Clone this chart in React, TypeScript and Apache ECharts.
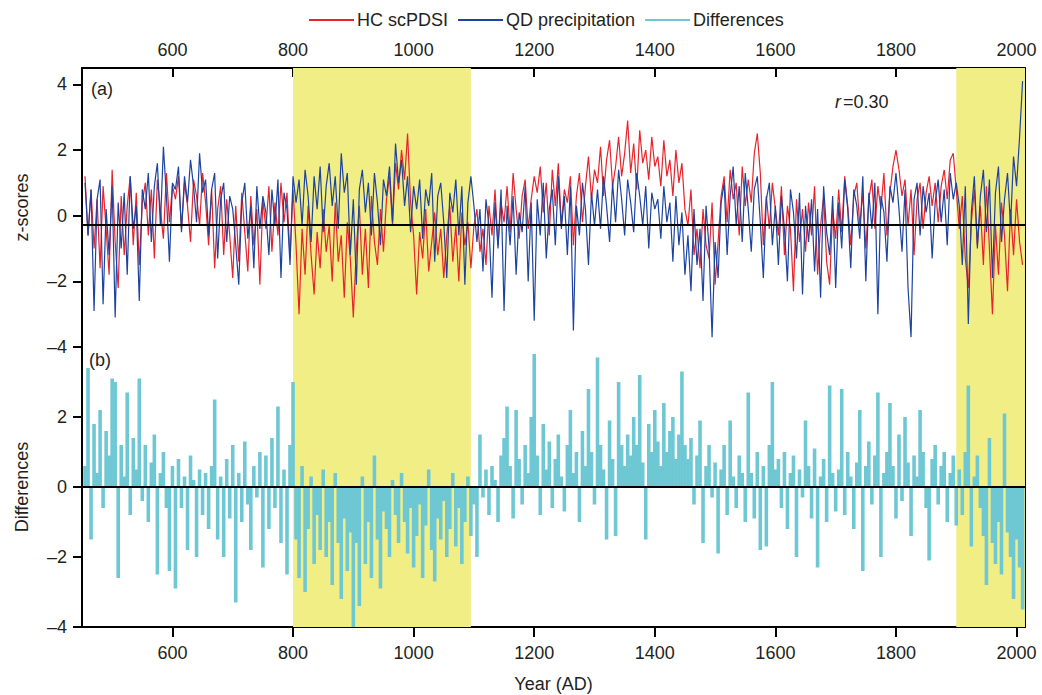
import React, { useEffect, useRef } from "react";
import * as echarts from "echarts";

// ---- data (one value per 5 years) ----
const startYear = 455;
const stepYears = 5;

const hcScPDSI = [
  1.2, -0.6, 0.8, -1.0, 0.5, -1.6, 0.9, -0.4, -1.8, 1.4,
  -0.8, -2.2, 0.6, -1.2, 0.3, 1.2, -0.9, 0.7, -1.5, 0.4,
  1.0, -0.6, 0.8, -1.3, 1.1, 0.2, -0.7, 1.3, -0.2, 0.9,
  0.5, 1.2, -0.4, 1.0, 0.3, -0.8, 1.1, 0.6, -0.3, 1.3,
  0.4, -0.9, 0.8, -1.6, 0.2, 0.9, -1.2, 0.5, -0.6, -1.9,
  0.3, -1.4, 0.7, -0.5, -1.7, 0.6, -0.9, 0.2, -2.1, 0.5,
  -0.4, 0.9, -1.1, 0.4, -0.6, 1.0, -0.2, 0.7, -1.3, 0.8,
  -0.9, -3.0, -0.4, -1.8, 0.3, -1.2, -2.4, -0.5, -1.6, 0.2,
  -1.1, -0.3, -2.0, 0.4, -1.4, -0.6, -2.5, -0.2, -1.3, -3.1,
  -1.0, 0.3, -1.8, -0.4, -2.2, 0.6, -0.8, -1.5, 0.2, -1.1,
  0.5, 1.2, -0.3, 1.6, 0.8, 2.0, 1.1, 2.5, 0.4, -0.6,
  -2.4, -0.5, -1.3, 0.2, -1.7, -0.8, 0.1, -1.2, -0.4, -1.9,
  -0.6, 0.3, -1.4, -0.3, -2.0, 0.1, -0.9, -0.2, -1.6, -0.3,
  0.2, -1.1, -0.4, -1.5, 0.3, -0.6, 0.8, -0.9, 0.4, -0.2,
  0.9, -0.5, 1.3, 0.2, -0.7, 0.6, 1.1, -0.4, 0.5, 1.2,
  0.7, 1.5, 0.1, 1.0, -0.6, 1.4, 0.3, 1.6, -0.3, 0.8,
  0.4, 1.2, -0.9, 0.6, 1.3, -0.2, 0.9, 1.8, 0.5, 1.4,
  1.0, 2.1, 0.6, 1.7, 2.3, 0.9, 1.5, 2.4, 1.2, 1.9,
  2.9, 1.3, 2.2, 0.8, 2.6, 1.6, 2.0, 1.1, 2.4, 1.5,
  1.8, 0.9, 2.3, 1.2, 1.7, 0.6, 2.0, 1.0, 1.6, 0.2,
  -0.3, 0.8, -1.2, -0.4, -1.6, 0.2, -0.9, -1.3, 0.4, -2.1,
  -0.8, 0.6, 1.2, -0.2, 1.4, 0.5, 1.0, -0.6, 1.5, 0.3,
  1.1, 0.4, 1.9, 2.5, 1.3, -0.9, 0.6, -0.4, 1.0, 0.2,
  -0.6, 0.9, -1.2, 0.3, -0.4, -2.3, 0.5, -0.8, 0.2, -1.1,
  0.4, -0.6, 0.9, -1.8, -0.3, 0.6, -1.4, -2.1, 0.2, -0.7,
  0.8, -0.5, 1.2, 0.3, -0.9, 0.6, 1.0, -0.3, 0.7, -1.0,
  0.5, 1.1, -0.4, 0.9, 0.2, 1.3, -0.6, 0.7, 1.5, 2.0,
  1.4, 0.6, 1.1, -0.3, 0.8, -1.2, 0.5, 1.0, -0.4, 0.7,
  1.2, 0.3, 1.0, -0.2, 0.9, 1.4, 0.5, 1.7, 1.9, 0.8,
  -0.4, 0.6, -1.3, -2.2, -0.2, 0.8, -0.9, 0.3, -1.5, 0.9,
  -1.0, -3.0, -0.3, -1.8, 0.4, -0.6, -2.3, 0.2, -1.2, 0.5, -0.8, -1.5,
];

const qdPrecipitation = [
  1.0, -0.6, 0.8, -2.9, 0.5, 1.1, -2.7, 0.2, -1.2, 0.9,
  -3.1, 0.4, -1.0, 0.7, -1.8, 1.2, -0.4, 0.3, -2.6, 0.8,
  0.2, 1.3, -0.8, 0.9, 1.6, -0.3, 2.1, 0.6, -1.4, 1.0,
  0.8, 1.5, -0.5, 1.2, 0.4, 1.7, 0.9, -0.2, 1.9, 0.7,
  1.1, -0.6, 0.8, 1.3, -1.3, 0.5, 1.0, -0.8, 0.6, 0.2,
  -0.9, -2.1, 0.4, 1.0, -0.7, 0.3, -1.6, 0.9, -0.4, 0.6,
  0.1, -1.2, 0.8, -0.3, 1.1, -1.9, 0.7, 0.2, -1.5, 1.2,
  0.4, 1.1, -0.3, 1.4, 0.6, -0.8, 1.2, 0.2, 1.5, -0.5,
  0.9, 1.6, 0.3, 1.2, -0.4, 1.9, 0.7, 1.3, -1.2, 0.5,
  -2.1, 0.8, 1.4, 0.1, 1.0, -0.6, 1.3, 0.4, -0.9, 1.1,
  0.6, 1.5, -0.2, 2.2, 1.0, 1.7, 0.3, 1.2, -0.5, 0.9,
  0.2, 1.1, -0.7, 0.8, 0.3, 1.3, -1.4, 0.6, 1.0, -0.2,
  -1.9, 0.7, 0.1, 1.1, -0.6, 0.9, -2.1, 0.4, 1.2, 0.3,
  -0.8, 0.2, -1.7, 0.5, -0.3, -2.5, 0.4, -1.0, 0.8, -2.9,
  0.3, -0.9, 0.6, -1.8, 0.1, -0.5, 0.9, -2.0, 0.4, -3.2,
  0.5, -0.6, 1.0, -1.3, 0.2, 0.8, -0.9, 1.2, -0.4, 0.6,
  -1.2, 0.9, -3.5, 0.3, -0.6, 1.0, 0.2, -1.5, 0.7, -0.3,
  0.8, -0.4, 1.2, 0.3, -0.8, 1.0, -0.2, 1.4, 0.5, -0.6,
  1.1, 0.4, -0.5, 1.3, 0.6, -0.3, 0.9, -1.0, 0.7, 0.2,
  0.5, -0.7, 0.9, -0.2, 0.4, -1.4, 0.6, -0.9, 0.1, -1.8,
  -0.6, -2.3, 0.2, -1.5, -0.4, -2.6, 0.3, -1.0, -3.7, -0.8,
  -1.9, 0.4, 1.0, -1.2, 0.6, 1.5, -0.3, 0.9, -0.8, 1.3,
  0.2, -1.1, 0.8, 1.2, -0.2, -1.9, 0.5, 1.0, -0.9, 0.3,
  -1.5, 0.6, -0.4, -2.0, 0.8, 0.1, -1.3, 0.7, -2.4, 0.3,
  -0.8, 0.5, -1.7, 0.2, -2.5, 0.9, -0.5, -1.2, 0.6, -2.2,
  0.4, -1.0, 1.1, 0.2, -1.6, 0.8, 0.3, -0.7, 1.2, -2.0,
  0.7, -0.4, 1.0, -3.0, 0.6, 0.1, -1.4, 0.9, 0.4, 1.3,
  0.2, -1.1, 0.8, -2.2, -3.7, 0.5, 1.0, -0.6, 0.9, 0.1,
  0.7, -1.3, 0.4, 1.1, -0.2, 0.8, -0.9, 1.3, 0.5, 1.0,
  0.3, -1.5, 0.9, -3.3, 0.1, 1.2, -1.0, 0.6, 1.4, -0.5,
  1.1, -1.9, 0.7, 1.5, -0.8, 0.5, 1.3, -0.3, 1.8, 0.9, 2.4, 4.1,
];

const differences = [
  0.6, 3.4, -1.5, 1.8, 0.4, 2.2, -0.6, 1.6, 0.9, 3.1,
  3.0, -2.6, 1.2, 0.3, 2.7, -0.8, 1.4, 0.5, 3.1, -0.4,
  1.2, -1.0, 0.7, 1.5, -2.5, 0.4, 1.0, -0.6, -2.4, 0.6,
  -2.9, 0.8, -0.6, 0.3, -1.8, 0.9, 0.2, -2.0, 0.5, -0.8,
  0.4, -1.2, 0.6, 2.5, -1.5, 0.3, -2.0, 0.8, -0.9, 1.2,
  -3.3, 0.4, -1.0, 1.3, -0.5, -1.8, 0.6, -0.3, 1.0, -2.3,
  0.9, -1.2, 1.4, -0.6, 2.3, -1.6, 0.5, -2.5, 1.2, 3.0,
  -1.5, -2.6, 0.6, -3.0, -1.2, 0.3, -2.2, -0.8, -1.8, 0.5,
  -2.0, -1.0, -2.8, 0.4, -1.6, -3.2, -0.9, -2.4, -1.3, -4.0,
  -1.6, -3.4, 0.3, -2.2, -1.0, -2.6, 0.9, -1.5, -2.9, -0.7,
  -1.2, -2.0, 0.2, -0.8, -1.6, 0.4, -1.0, -1.9, -0.6, -2.3,
  -1.4, -0.5, -2.6, -1.1, 0.5, -1.8, -2.7, -0.9, -1.5, -0.4,
  -2.0, -1.2, 0.4, -1.7, -0.6, -2.2, -1.0, 0.3, -1.4, -0.5,
  -2.0, 1.5, -0.3, 0.5, -0.8, 0.6, 0.2, -1.0, 0.9, 1.4,
  2.3, 0.6, -0.9, 2.2, 0.8, -0.5, 1.2, 0.4, 2.0, 3.8,
  0.9, -0.8, 1.8, 0.5, 1.3, -0.6, 0.8, 1.5, 0.3, -0.7,
  1.2, 2.2, 0.4, 1.0, -1.0, 1.6, 0.6, 2.8, 1.0, -0.5,
  3.7, 1.2, 0.5, -1.5, 1.9, 0.8, -1.4, 3.0, 1.2, 0.6,
  1.5, 0.9, 2.0, 1.2, 3.2, 0.7, -1.5, 1.8, 1.0, 2.2,
  1.3, 0.6, 2.4, 1.0, 1.6, 2.0, 0.8, 1.5, 3.3, 1.2,
  0.8, 1.4, -0.5, 0.9, 1.9, -1.6, 0.6, 1.2, -0.3, 0.7,
  -1.9, 0.5, 1.2, -0.8, 1.9, 0.3, -0.6, 0.9, 0.4, -1.0,
  2.7, 0.4, -0.9, 1.0, -1.8, 0.6, -1.7, 1.2, 3.0, 0.5,
  0.8, -0.6, 1.0, -1.2, 0.4, 0.9, -2.0, 0.5, -0.3, 1.9,
  0.6, -0.9, 1.1, -2.3, 0.3, 0.8, -1.0, 2.9, 0.4, -0.7,
  0.5, 2.8, -0.8, 1.0, 0.3, -1.2, 0.7, 2.2, -2.4, 0.6,
  1.3, -0.5, 0.9, 2.7, -2.0, 0.4, 1.0, 2.4, 0.6, -0.9,
  1.5, -0.4, 2.0, 0.7, -1.4, 0.9, 0.3, 2.2, 1.0, -0.6,
  -2.1, 0.8, 1.2, -0.5, 0.6, 1.0, -1.0, 0.4, 0.9, -1.1,
  0.5, -0.8, 1.0, 2.9, -1.7, 0.3, 0.9, -0.6, -1.4, -2.8,
  1.4, -1.6, -2.2, -1.0, -2.5, 2.1, -1.3, -2.0, -3.2, -1.5, -2.3, -3.5,
];

const xTickYears = [600, 800, 1000, 1200, 1400, 1600, 1800, 2000];
const zScoreTicks = [-4, -2, 0, 2, 4];
const diffTicksLeft = [-4, -2, 0, 2];
const diffTicksRight = [-4, -2, 0, 2, 4];
const shadedPeriods = [
  [800, 1095],
  [1900, 2014],
];
const zMeanLine = -0.27;
const corrText = "=0.30";

const TEXT = "#231f20";
const RED = "#e8232b";
const BLUE = "#1d43a0";
const CYAN = "#6ec8d4";
const YELLOW = "#f2ee86";
const FONT = "'Liberation Sans', Arial, Helvetica, sans-serif";

const toPairs = (arr: number[]) => arr.map((v, i) => [startYear + i * stepYears, v]);
const fmt = (v: number) => (v < 0 ? "\u2013" + Math.abs(v) : String(v));
const fmtYear = (v: number) => String(v);

export default function App() {
  const ref = useRef<HTMLDivElement>(null);

  useEffect(() => {
    if (!ref.current) return;
    const chart = echarts.init(ref.current, null, { renderer: "svg" });

    const axisLine = { show: true, onZero: false, lineStyle: { color: "#000", width: 2 } };
    const bandArea = {
      silent: true,
      itemStyle: { color: YELLOW, opacity: 1 },
      label: { show: false },
      data: shadedPeriods.map(([a, b]) => [{ xAxis: a }, { xAxis: b }]),
    };

    const option: any = {
      animation: false,
      textStyle: { fontFamily: FONT, color: TEXT },
      legend: {
        top: 6,
        left: 304,
        itemWidth: 45,
        itemHeight: 2,
        itemGap: 10,
        textStyle: { fontSize: 18, color: TEXT, fontFamily: FONT, padding: [0, 0, 0, -2] },
        data: [
          { name: "HC scPDSI", icon: "rect" },
          { name: "QD precipitation", icon: "rect" },
          { name: "Differences", icon: "rect" },
        ],
      },
      grid: [
        { left: 82, right: 17, top: 68, height: 279 },
        { left: 82, right: 17, top: 347, height: 280 },
      ],
      xAxis: [
        {
          gridIndex: 0,
          type: "value",
          position: "top",
          min: 450,
          max: 2014,
          axisLine,
          axisTick: { show: true, inside: true, length: 9, customValues: xTickYears, lineStyle: { color: "#000", width: 2 } },
          axisLabel: { show: true, customValues: xTickYears, formatter: fmtYear, margin: 9, fontSize: 18, color: TEXT, fontFamily: FONT },
          splitLine: { show: false },
        },
        {
          gridIndex: 1,
          type: "value",
          position: "bottom",
          min: 450,
          max: 2014,
          axisLine,
          axisTick: { show: true, inside: false, length: 10, customValues: xTickYears, lineStyle: { color: "#000", width: 2 } },
          axisLabel: { show: true, customValues: xTickYears, formatter: fmtYear, margin: 17, fontSize: 18, color: TEXT, fontFamily: FONT },
          splitLine: { show: false },
          name: "Year (AD)",
          nameLocation: "middle",
          nameGap: 48,
          nameTextStyle: { fontSize: 18, color: TEXT, fontFamily: FONT },
        },
      ],
      yAxis: [
        {
          gridIndex: 0,
          type: "value",
          position: "left",
          min: -4,
          max: 4.5,
          axisLine,
          axisTick: { show: true, inside: false, length: 9, customValues: zScoreTicks, lineStyle: { color: "#000", width: 2 } },
          axisLabel: { show: true, customValues: zScoreTicks, formatter: fmt, margin: 15, fontSize: 18, color: TEXT, fontFamily: FONT },
          splitLine: { show: false },
          name: "z-scores",
          nameLocation: "middle",
          nameRotate: 90,
          nameGap: 51,
          nameTextStyle: { fontSize: 18, color: TEXT, fontFamily: FONT },
        },
        {
          gridIndex: 0,
          type: "value",
          position: "right",
          min: -4,
          max: 4.5,
          axisLine,
          axisTick: { show: true, inside: true, length: 9, customValues: zScoreTicks, lineStyle: { color: "#000", width: 2 } },
          axisLabel: { show: false },
          splitLine: { show: false },
        },
        {
          gridIndex: 1,
          type: "value",
          position: "left",
          min: -4,
          max: 4,
          axisLine,
          axisTick: { show: true, inside: false, length: 9, customValues: diffTicksLeft, lineStyle: { color: "#000", width: 2 } },
          axisLabel: { show: true, customValues: diffTicksLeft, formatter: fmt, margin: 15, fontSize: 18, color: TEXT, fontFamily: FONT },
          splitLine: { show: false },
          name: "Differences",
          nameLocation: "middle",
          nameRotate: 90,
          nameGap: 51,
          nameTextStyle: { fontSize: 18, color: TEXT, fontFamily: FONT },
        },
        {
          gridIndex: 1,
          type: "value",
          position: "right",
          min: -4,
          max: 4,
          axisLine,
          axisTick: { show: true, inside: true, length: 9, customValues: diffTicksRight, lineStyle: { color: "#000", width: 2 } },
          axisLabel: { show: false },
          splitLine: { show: false },
        },
      ],
      series: [
        {
          type: "line",
          xAxisIndex: 0,
          yAxisIndex: 0,
          data: [],
          silent: true,
          z: 1,
          markArea: bandArea,
        },
        {
          type: "line",
          xAxisIndex: 1,
          yAxisIndex: 2,
          data: [],
          silent: true,
          z: 1,
          markArea: bandArea,
        },
        {
          name: "HC scPDSI",
          type: "line",
          xAxisIndex: 0,
          yAxisIndex: 0,
          data: toPairs(hcScPDSI),
          showSymbol: false,
          symbol: "none",
          z: 3,
          lineStyle: { color: RED, width: 1.2 },
          itemStyle: { color: RED },
        },
        {
          name: "QD precipitation",
          type: "line",
          xAxisIndex: 0,
          yAxisIndex: 0,
          data: toPairs(qdPrecipitation),
          showSymbol: false,
          symbol: "none",
          z: 4,
          lineStyle: { color: BLUE, width: 1.2 },
          itemStyle: { color: BLUE },
          markLine: {
            silent: true,
            symbol: ["none", "none"],
            label: { show: false },
            lineStyle: { color: "#000", width: 2.2, type: "solid" },
            data: [{ yAxis: zMeanLine }],
          },
        },
        {
          name: "Differences",
          type: "bar",
          xAxisIndex: 1,
          yAxisIndex: 2,
          data: toPairs(differences),
          barWidth: 3.6,
          z: 3,
          itemStyle: { color: CYAN },
          markLine: {
            silent: true,
            symbol: ["none", "none"],
            label: { show: false },
            lineStyle: { color: "#000", width: 2.2, type: "solid" },
            data: [{ yAxis: 0 }],
          },
        },
      ],
      graphic: [
        { type: "text", left: 91, top: 80, style: { text: "(a)", fontSize: 18, fill: TEXT, fontFamily: FONT } },
        { type: "text", left: 89, top: 351, style: { text: "(b)", fontSize: 18, fill: TEXT, fontFamily: FONT } },
        { type: "text", left: 835, top: 93, style: { text: "r", fontSize: 18, fontStyle: "italic", fill: TEXT, fontFamily: FONT } },
        { type: "text", left: 843, top: 93, style: { text: corrText, fontSize: 18, fill: TEXT, fontFamily: FONT } },
      ],
    };

    chart.setOption(option);
    return () => chart.dispose();
  }, []);

  return (
    <div
      ref={ref}
      style={{ position: "fixed", left: 0, top: 0, width: 1042, height: 695, background: "#fff" }}
    />
  );
}
